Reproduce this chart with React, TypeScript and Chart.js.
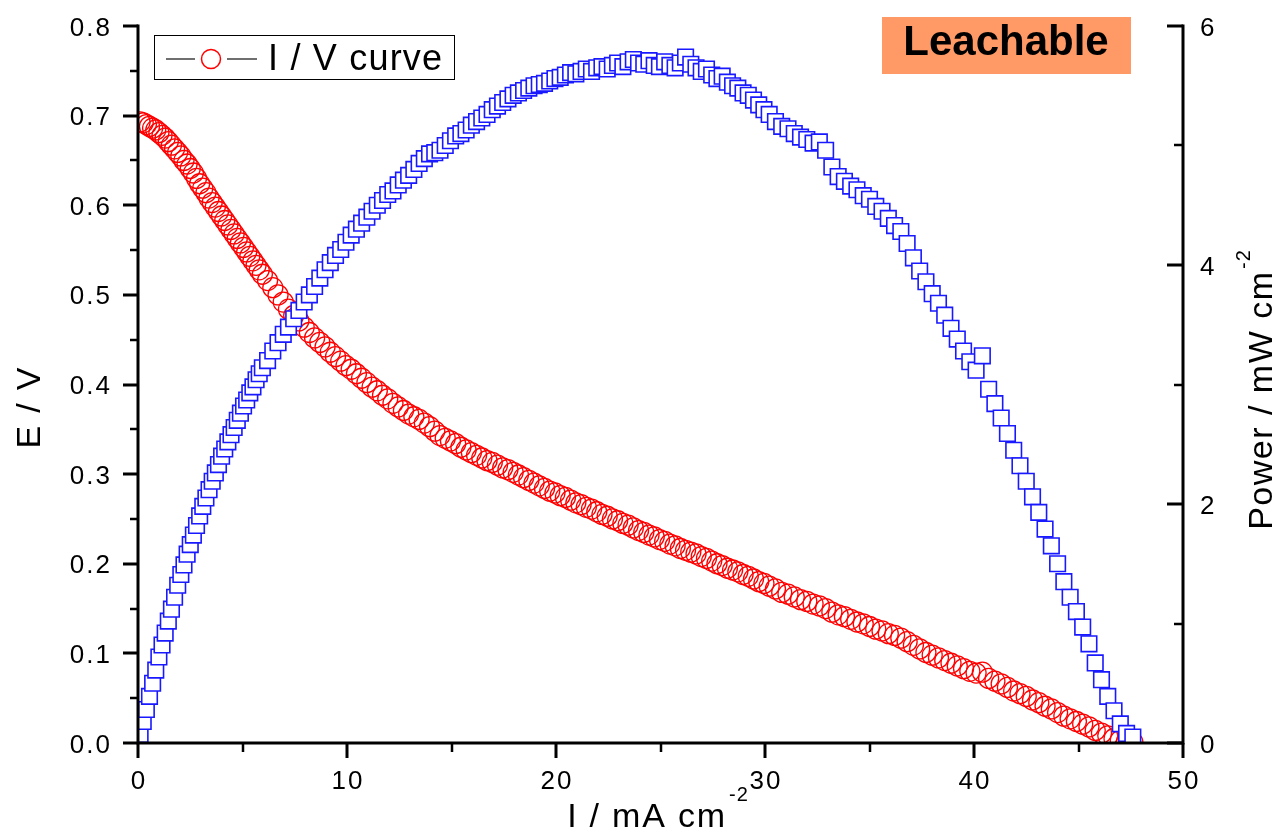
import React, { useEffect, useRef } from "react";
import { Chart, registerables } from "chart.js";

Chart.register(...registerables);

const W = 1279;
const H = 833;

// Current density (mA cm^-2), shared by both series
const current = [
  0.1, 0.25, 0.4, 0.55, 0.7, 0.85, 1.0, 1.15, 1.3, 1.45, 1.6, 1.75, 1.9, 2.05, 2.2, 2.35, 2.5, 2.65, 2.8, 2.95,
  3.1, 3.25, 3.4, 3.55, 3.7, 3.85, 4.0, 4.15, 4.3, 4.45, 4.6, 4.75, 4.9, 5.05, 5.2, 5.35, 5.5, 5.65, 5.8, 5.95,
  6.2, 6.45, 6.7, 6.95, 7.2, 7.45, 7.7, 7.95, 8.2, 8.45, 8.7, 8.95, 9.2, 9.45, 9.7, 9.95, 10.2, 10.45, 10.7, 10.95,
  11.2, 11.45, 11.7, 11.95, 12.2, 12.45, 12.7, 12.95, 13.2, 13.45, 13.7, 13.95, 14.2, 14.45, 14.7, 14.95, 15.2, 15.45, 15.7, 15.95,
  16.2, 16.45, 16.7, 16.95, 17.2, 17.45, 17.7, 17.95, 18.2, 18.45, 18.7, 18.95, 19.2, 19.45, 19.7, 19.95,
  20.2, 20.45, 20.7, 20.95, 21.2, 21.45, 21.7, 21.95, 22.2, 22.45, 22.7, 22.95, 23.2, 23.45, 23.7, 23.95, 24.2, 24.45, 24.7, 24.95,
  25.2, 25.45, 25.7, 25.95, 26.2, 26.45, 26.7, 26.95, 27.2, 27.45, 27.7, 27.95, 28.2, 28.45, 28.7, 28.95, 29.2, 29.45, 29.7, 29.95,
  30.2, 30.5, 30.8, 31.1, 31.4, 31.7, 32.0, 32.3, 32.6, 32.9, 33.2, 33.5, 33.8, 34.1, 34.4, 34.7, 35.0, 35.3, 35.6, 35.9,
  36.2, 36.5, 36.8, 37.1, 37.4, 37.7, 38.0, 38.3, 38.6, 38.9, 39.2, 39.5, 39.8, 40.1, 40.4, 40.7, 41.0, 41.3, 41.6, 41.9,
  42.2, 42.5, 42.8, 43.1, 43.4, 43.7, 44.0, 44.3, 44.6, 44.9, 45.2, 45.5, 45.8, 46.1, 46.4, 46.7, 47.0, 47.3, 47.6,
];

// Cell voltage E (V) — "I / V curve"
const voltage = [
  0.693, 0.692, 0.690, 0.688, 0.686, 0.684, 0.681, 0.678, 0.675, 0.671, 0.667, 0.663, 0.659, 0.655, 0.650, 0.646, 0.641, 0.636, 0.630, 0.624,
  0.619, 0.614, 0.608, 0.603, 0.598, 0.593, 0.588, 0.583, 0.578, 0.573, 0.568, 0.563, 0.558, 0.553, 0.548, 0.543, 0.538, 0.533, 0.528, 0.523,
  0.516, 0.508, 0.500, 0.492, 0.484, 0.477, 0.471, 0.464, 0.458, 0.452, 0.447, 0.442, 0.436, 0.431, 0.426, 0.421, 0.417, 0.412, 0.407, 0.402,
  0.397, 0.393, 0.388, 0.384, 0.379, 0.375, 0.371, 0.367, 0.364, 0.361, 0.357, 0.353, 0.348, 0.343, 0.340, 0.337, 0.334, 0.330, 0.327, 0.324,
  0.321, 0.318, 0.315, 0.313, 0.310, 0.307, 0.305, 0.302, 0.299, 0.296, 0.293, 0.290, 0.287, 0.284, 0.281, 0.279,
  0.276, 0.274, 0.271, 0.268, 0.266, 0.263, 0.261, 0.258, 0.255, 0.253, 0.250, 0.248, 0.245, 0.243, 0.240, 0.237, 0.235, 0.232, 0.230, 0.227,
  0.225, 0.222, 0.220, 0.217, 0.215, 0.213, 0.211, 0.208, 0.206, 0.203, 0.200, 0.198, 0.195, 0.193, 0.191, 0.188, 0.186, 0.183, 0.180, 0.178,
  0.175, 0.172, 0.168, 0.166, 0.163, 0.160, 0.158, 0.155, 0.153, 0.150, 0.146, 0.143, 0.141, 0.138, 0.135, 0.133, 0.130, 0.127, 0.125, 0.122,
  0.120, 0.117, 0.113, 0.109, 0.105, 0.101, 0.098, 0.095, 0.092, 0.089, 0.086, 0.083, 0.080, 0.078, 0.079, 0.072, 0.069, 0.066, 0.062, 0.058,
  0.055, 0.052, 0.048, 0.045, 0.041, 0.038, 0.034, 0.030, 0.027, 0.024, 0.021, 0.018, 0.014, 0.011, 0.008, 0.005, 0.003, 0.002, 0.001,
];

// Power density (mW cm^-2)
const power = [
  0.07, 0.18, 0.28, 0.39, 0.50, 0.61, 0.72, 0.82, 0.92, 1.02, 1.12, 1.22, 1.32, 1.41, 1.49, 1.58, 1.66, 1.74, 1.82, 1.90,
  1.98, 2.05, 2.12, 2.19, 2.26, 2.33, 2.40, 2.46, 2.52, 2.58, 2.64, 2.70, 2.76, 2.82, 2.87, 2.93, 2.98, 3.04, 3.09, 3.14,
  3.20, 3.28, 3.35, 3.42, 3.48, 3.55, 3.62, 3.69, 3.75, 3.82, 3.89, 3.96, 4.02, 4.08, 4.13, 4.19, 4.25, 4.30, 4.35, 4.40,
  4.45, 4.50, 4.54, 4.59, 4.62, 4.67, 4.71, 4.75, 4.80, 4.85, 4.89, 4.93, 4.94, 4.96, 5.00, 5.04, 5.08, 5.10, 5.13, 5.17,
  5.20, 5.23, 5.26, 5.30, 5.33, 5.36, 5.39, 5.42, 5.44, 5.46, 5.48, 5.50, 5.51, 5.52, 5.54, 5.56,
  5.57, 5.59, 5.61, 5.60, 5.62, 5.64, 5.62, 5.65, 5.66, 5.64, 5.67, 5.69, 5.66, 5.70, 5.72, 5.69, 5.68, 5.71, 5.67, 5.66,
  5.70, 5.67, 5.65, 5.69, 5.74, 5.68, 5.65, 5.62, 5.64, 5.59, 5.56, 5.58, 5.53, 5.50, 5.48, 5.44, 5.42, 5.38, 5.34, 5.30,
  5.26, 5.20, 5.16, 5.14, 5.10, 5.07, 5.05, 5.02, 5.03, 4.96, 4.82, 4.74, 4.70, 4.66, 4.63, 4.58, 4.55, 4.49, 4.45, 4.39,
  4.33, 4.28, 4.18, 4.06, 3.95, 3.86, 3.76, 3.68, 3.58, 3.47, 3.38, 3.28, 3.19, 3.12, 3.24, 2.96, 2.84, 2.72, 2.59, 2.45,
  2.32, 2.19, 2.06, 1.93, 1.79, 1.65, 1.50, 1.35, 1.22, 1.10, 0.97, 0.83, 0.67, 0.53, 0.39, 0.27, 0.16, 0.08, 0.05,
];

const xTicks = [0, 10, 20, 30, 40, 50];
const xMinor = [5, 15, 25, 35, 45];
const yTicks = [0, 0.1, 0.2, 0.3, 0.4, 0.5, 0.6, 0.7, 0.8];
const yMinor = [0.05, 0.15, 0.25, 0.35, 0.45, 0.55, 0.65, 0.75];
const y2Ticks = [0, 2, 4, 6];
const y2Minor = [1, 3, 5];

const xTitle = "I / mA cm";
const xTitleSup = "-2";
const yTitle = "E / V";
const y2Title = "Power / mW cm";
const y2TitleSup = "-2";
const legendLabel = "I / V curve";
const badgeText = "Leachable";

const FONT = '"Liberation Sans", Arial, Helvetica, sans-serif';

function spacedWidth(ctx: CanvasRenderingContext2D, text: string, sp: number) {
  const chars = Array.from(text);
  let w = 0;
  for (const ch of chars) w += ctx.measureText(ch).width;
  return w + sp * Math.max(0, chars.length - 1);
}

function drawSpaced(ctx: CanvasRenderingContext2D, text: string, x: number, y: number, sp: number) {
  let cx = x;
  for (const ch of Array.from(text)) {
    ctx.fillText(ch, cx, y);
    cx += ctx.measureText(ch).width + sp;
  }
}

const decorPlugin = {
  id: "decor",
  afterDraw(chart: any) {
    const ctx: CanvasRenderingContext2D = chart.ctx;
    const { left, right, top, bottom } = chart.chartArea;
    const sx = chart.scales.x;
    const sy = chart.scales.y;
    const sy2 = chart.scales.y2;
    ctx.save();
    ctx.textAlign = "left";
    ctx.textBaseline = "alphabetic";

    // axis lines
    ctx.strokeStyle = "#000";
    ctx.lineWidth = 3;
    ctx.lineCap = "square";
    ctx.beginPath();
    ctx.moveTo(left, top);
    ctx.lineTo(left, bottom);
    ctx.lineTo(right, bottom);
    ctx.lineTo(right, top);
    ctx.stroke();

    // ticks
    ctx.lineCap = "butt";
    ctx.lineWidth = 3;
    ctx.beginPath();
    for (const v of yTicks) {
      const p = Math.round(sy.getPixelForValue(v));
      ctx.moveTo(left - 15, p);
      ctx.lineTo(left, p);
    }
    for (const v of xTicks) {
      const p = Math.round(sx.getPixelForValue(v));
      ctx.moveTo(p, bottom);
      ctx.lineTo(p, bottom + 15);
    }
    for (const v of y2Ticks) {
      const p = Math.round(sy2.getPixelForValue(v));
      ctx.moveTo(right - 16, p);
      ctx.lineTo(right, p);
    }
    ctx.stroke();
    ctx.lineWidth = 2.5;
    ctx.beginPath();
    for (const v of yMinor) {
      const p = Math.round(sy.getPixelForValue(v));
      ctx.moveTo(left - 8, p);
      ctx.lineTo(left, p);
    }
    for (const v of xMinor) {
      const p = Math.round(sx.getPixelForValue(v));
      ctx.moveTo(p, bottom);
      ctx.lineTo(p, bottom + 9);
    }
    for (const v of y2Minor) {
      const p = Math.round(sy2.getPixelForValue(v));
      ctx.moveTo(right - 9, p);
      ctx.lineTo(right, p);
    }
    ctx.stroke();

    // tick labels
    ctx.fillStyle = "#000";
    ctx.font = `26px ${FONT}`;
    const tsp = 2;
    for (const v of yTicks) {
      const p = sy.getPixelForValue(v);
      const t = v.toFixed(1);
      const w = spacedWidth(ctx, t, tsp);
      drawSpaced(ctx, t, left - 28 - w, p + 9.5, tsp);
    }
    for (const v of xTicks) {
      const p = sx.getPixelForValue(v);
      const t = String(v);
      const w = spacedWidth(ctx, t, tsp);
      drawSpaced(ctx, t, p - w / 2, bottom + 46, tsp);
    }
    for (const v of y2Ticks) {
      const p = sy2.getPixelForValue(v);
      drawSpaced(ctx, String(v), right + 17, p + 9.5, tsp);
    }

    // axis titles
    const titleSp = 1.8;
    const titleFont = `34px ${FONT}`;
    const supFont = `20px ${FONT}`;
    // x title
    ctx.font = titleFont;
    const xw = spacedWidth(ctx, xTitle, titleSp);
    ctx.font = supFont;
    const xsw = spacedWidth(ctx, xTitleSup, 1);
    const xStart = (left + right) / 2 - (xw + 4 + xsw) / 2 - 3;
    ctx.font = titleFont;
    drawSpaced(ctx, xTitle, xStart, bottom + 84, titleSp);
    ctx.font = supFont;
    drawSpaced(ctx, xTitleSup, xStart + xw + 4, bottom + 58, 1);

    // left title
    ctx.save();
    ctx.translate(left - 98, 408);
    ctx.rotate(-Math.PI / 2);
    ctx.font = titleFont;
    const yw = spacedWidth(ctx, yTitle, titleSp);
    drawSpaced(ctx, yTitle, -yw / 2, 0, titleSp);
    ctx.restore();

    // right title
    ctx.save();
    ctx.translate(right + 89, 390);
    ctx.rotate(-Math.PI / 2);
    ctx.font = titleFont;
    const rw = spacedWidth(ctx, y2Title, 1.5);
    ctx.font = supFont;
    const rsw = spacedWidth(ctx, y2TitleSup, 1);
    const rStart = -(rw + 3 + rsw) / 2;
    ctx.font = titleFont;
    drawSpaced(ctx, y2Title, rStart, 0, 1.5);
    ctx.font = supFont;
    drawSpaced(ctx, y2TitleSup, rStart + rw + 3, -22, 1);
    ctx.restore();

    // legend box
    ctx.strokeStyle = "#000";
    ctx.lineWidth = 1;
    ctx.strokeRect(154.5, 35.5, 300, 44);
    ctx.strokeStyle = "#404040";
    ctx.lineWidth = 1.5;
    ctx.beginPath();
    ctx.moveTo(166, 59);
    ctx.lineTo(195, 59);
    ctx.moveTo(227, 59);
    ctx.lineTo(257, 59);
    ctx.stroke();
    ctx.strokeStyle = "#ff0000";
    ctx.lineWidth = 1.5;
    ctx.beginPath();
    ctx.arc(211, 59, 9.5, 0, Math.PI * 2);
    ctx.stroke();
    ctx.fillStyle = "#000";
    ctx.font = `36px ${FONT}`;
    drawSpaced(ctx, legendLabel, 268, 70, 1.2);

    // badge
    ctx.fillStyle = "#ff9966";
    ctx.fillRect(882, 17, 249, 57);
    ctx.fillStyle = "#000";
    ctx.font = `bold 42px ${FONT}`;
    const bw = ctx.measureText(badgeText).width;
    ctx.fillText(badgeText, 1006 - bw / 2, 55);

    ctx.restore();
  },
};

export default function App() {
  const ref = useRef<HTMLCanvasElement>(null);

  useEffect(() => {
    const canvas = ref.current;
    if (!canvas) return;
    const ivData = current.map((x, i) => ({ x, y: voltage[i] }));
    const pwData = current.map((x, i) => ({ x, y: power[i] }));
    const chart = new Chart(canvas, {
      type: "scatter",
      data: {
        datasets: [
          {
            label: "Power",
            data: pwData,
            xAxisID: "x",
            yAxisID: "y2",
            showLine: false,
            pointStyle: "rect",
            pointRadius: 11,
            pointHoverRadius: 11,
            pointBorderColor: "rgb(25,25,255)",
            pointBackgroundColor: "#ffffff",
            pointBorderWidth: 1.6,
            borderColor: "rgb(25,25,255)",
            backgroundColor: "#ffffff",
            order: 0,
            clip: 0,
          } as any,
          {
            label: legendLabel,
            data: ivData,
            xAxisID: "x",
            yAxisID: "y",
            showLine: false,
            pointStyle: "circle",
            pointRadius: 10,
            pointHoverRadius: 10,
            pointBorderColor: "#ff0000",
            pointBackgroundColor: "rgba(255,255,255,0)",
            pointBorderWidth: 1.3,
            borderColor: "#ff0000",
            backgroundColor: "rgba(255,255,255,0)",
            order: 1,
            clip: 0,
          } as any,
        ],
      },
      options: {
        responsive: false,
        animation: false,
        devicePixelRatio: 1,
        events: [],
        layout: { padding: { top: 26, left: 0, right: 0, bottom: 0 } },
        plugins: {
          legend: { display: false },
          tooltip: { enabled: false },
          title: { display: false },
        },
        scales: {
          x: {
            type: "linear",
            position: "bottom",
            min: 0,
            max: 50,
            ticks: { display: false },
            grid: { display: false, drawTicks: false },
            border: { display: false },
            afterFit: (s: any) => {
              s.height = 90;
            },
          },
          y: {
            type: "linear",
            position: "left",
            min: 0,
            max: 0.8,
            ticks: { display: false },
            grid: { display: false, drawTicks: false },
            border: { display: false },
            afterFit: (s: any) => {
              s.width = 138;
            },
          },
          y2: {
            type: "linear",
            position: "right",
            min: 0,
            max: 6,
            ticks: { display: false },
            grid: { display: false, drawTicks: false },
            border: { display: false },
            afterFit: (s: any) => {
              s.width = 96;
            },
          },
        },
      } as any,
      plugins: [decorPlugin],
    });
    return () => chart.destroy();
  }, []);

  return (
    <div style={{ position: "absolute", left: 0, top: 0, width: W, height: H, background: "#ffffff" }}>
      <canvas ref={ref} width={W} height={H} style={{ display: "block", width: W, height: H }} />
    </div>
  );
}
